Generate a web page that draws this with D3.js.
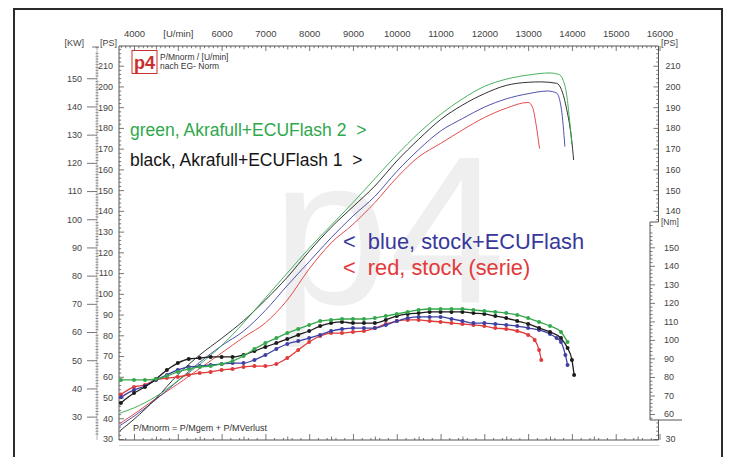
<!DOCTYPE html>
<html><head><meta charset="utf-8">
<script src="https://cdn.jsdelivr.net/npm/d3@7"></script>
<style>
body{margin:0;background:#fff}
svg{display:block}
text{font-family:"Liberation Sans",Arial,sans-serif;white-space:pre}
</style>
</head><body>
<svg id="c" width="738" height="457"></svg>
<script>
// ---------- DATA ----------
const rpmMajor = [4000,5000,6000,7000,8000,9000,10000,11000,12000,13000,14000,15000,16000];
const rpmLabels = ["4000","[U/min]","6000","7000","8000","9000","10000","11000","12000","13000","14000","15000","16000"];
const psTicks = [30,40,50,60,70,80,90,100,110,120,130,140,150,160,170,180,190,200,210];
const kwTicks = [30,40,50,60,70,80,90,100,110,120,130,140,150];
const psRightTicks = [140,150,160,170,180,190,200,210];
const nmTicks = [60,70,80,90,100,110,120,130,140,150];

// power (PS) - thin lines
const powerRpm = [3680,4000,4500,5000,5500,6000,6500,7000,7500,8000,8500,9000,9500,10000,10500,11000,11500,12000,12500,13000];
const greenPower = [42.5,45,50.5,58,66,75,86,98,110,122,133,144,155.5,167,177.5,186.5,194,200,203.5,205.5];
const greenPowerTailRpm = [13500,13700,13800,13880,13950,14000];
const greenPowerTail = [206.5,205.8,203,196,183,172];
const blackPower = [34,39.5,49.5,61,70.5,78.5,87,97,108,120.5,132,142,152,164,174.5,184,191,196.5,200.5,202];
const blackPowerTailRpm = [13300,13650,13760,13880,13990,14040];
const blackPowerTail = [202.2,201.5,198.5,189,175,164.5];
const bluePower = [36.5,41,49,58,67,75,82,92,104,115.5,127,137.5,147,159,169.5,178.5,184.5,190,194,196.5];
const bluePowerTailRpm = [13450,13650,13760,13840];
const bluePowerTail = [197.8,196.8,189,171];
const redPower = [37.5,42,49.5,56.5,64,71.5,79,86,97,112,124.5,133.5,144,156,166,172.5,179,185,189.5,192.3];
const redPowerTailRpm = [13100,13190,13260];
const redPowerTail = [190,180.5,170];

// torque (Nm) - dotted lines
const torqueRpm = [3700,4000,4250,4500,4750,5000,5250,5500,5750,6000,6250,6500,6750,7000,7250,7500,7750,8000,8250,8500,8750,9000,9250,9500,9750,10000,10250,10500,10750,11000,11250,11500,11750,12000,12250,12500,12750,13000];
const greenTorque = [78.4,78.4,78.4,78.9,80.5,82.7,84.3,85.4,85.9,87,88.6,91.3,95.1,98.3,101,103.7,105.9,108.1,110.2,110.8,111.3,111.3,111.3,111.8,112.9,114,115.1,116.2,116.7,116.7,116.7,116.7,116.2,115.6,115.1,114.5,113.5,111.8];
const greenTorqueTailRpm = [13250,13500,13750,13900];
const greenTorqueTail = [109.7,107.5,104.3,98.9];
const blackTorque = [66,71.3,74.6,78.9,83.8,87.5,89.7,90.2,90.8,90.8,90.8,91.9,94,96.2,98.3,100.5,102.7,104.8,107.5,109.1,109.7,109.1,109.1,109.1,110.8,112.9,114,114.5,115.1,115.1,115.1,115.1,114.5,114,112.9,111.8,110.2,108.6];
const blackTorqueTailRpm = [13250,13500,13750,13900,14000,14050];
const blackTorqueTail = [106.4,104.3,101,95.6,89.2,81.1];
const blueTorque = [69,73,75.1,78.4,81.1,83.8,85.4,85.9,86.5,87,87.5,87.5,89.2,91.9,95.1,97.8,99.4,101,102.7,104.8,105.9,106.4,106.4,106.4,108.1,110.2,111.8,112.4,112.4,112.4,111.3,110.2,109.1,109.1,108.6,108.1,107.5,106.4];
const blueTorqueTailRpm = [13250,13500,13650,13750,13850,13900];
const blueTorqueTail = [105.4,103.2,101,98.9,91.9,86.5];
const redTorque = [70.5,74.6,75.7,78.4,79.4,80,81.1,82.1,82.7,83.8,84.3,85.4,85.9,85.9,87,90.2,94.6,98.9,102.1,103.7,103.7,104.3,104.8,106.4,108.6,110.2,110.8,110.8,110.2,109.7,109.1,108.6,108.1,107.5,106.4,105.9,104.8,102.7];
const redTorqueTailRpm = [13150,13250,13300];
const redTorqueTail = [100,94.6,89.2];

const legendTexts = ["green, Akrafull+ECUFlash 2  >","black, Akrafull+ECUFlash 1  >","<  blue, stock+ECUFlash","<  red, stock (serie)"];

// ---------- DRAW ----------
const svg = d3.select("#c");
const PL = 119, PR = 658.5, PT = 46, PB = 440;
const x = d3.scaleLinear().domain([3680,16000]).range([120,659.5]);
const yPS = d3.scaleLinear().domain([30,210]).range([439,65.7]);
const KW2PS = 1.35962;
const yK = kw => yPS(kw*KW2PS);
const yKW = d3.scaleLinear().domain([0,200]).range([yK(0),yK(200)]);
const yNm = d3.scaleLinear().domain([60,150]).range([414,247.3]);

const C = {green:"#34a84c", black:"#1c1c1c", blue:"#3f3fa3", red:"#e03a3a"};
const axisCol = "#555", labCol = "#444";

svg.append("rect").attr("width",738).attr("height",457).attr("fill","#fff");
svg.append("rect").attr("x",14).attr("y",9).attr("width",708).attr("height",480)
  .attr("fill","none").attr("stroke","#2b2b2b").attr("stroke-width",2);

// watermark
svg.append("text").attr("x",272).attr("y",303).attr("font-size",210)
  .attr("fill","#efefef").text("p4");

function styleAxis(g, fs){
  g.select(".domain").remove();
  g.selectAll("line").attr("stroke",axisCol).attr("stroke-width",0.8);
  g.selectAll("text").attr("fill",labCol).attr("font-size",fs||9)
    .attr("font-family",'"Liberation Sans",Arial,sans-serif');
}

// top axis
const minorTop = d3.range(3700,16001,100).filter(v=>v%500!==0);
const midTop = d3.range(4500,16001,1000);
let g = svg.append("g").attr("transform",`translate(0,${PT})`)
  .call(d3.axisTop(x).tickValues(minorTop).tickSize(-2.2).tickFormat(""));
styleAxis(g);
g = svg.append("g").attr("transform",`translate(0,${PT})`)
  .call(d3.axisTop(x).tickValues(midTop).tickSize(-3.5).tickFormat(""));
styleAxis(g);
g = svg.append("g").attr("transform",`translate(0,${PT})`)
  .call(d3.axisTop(x).tickValues(rpmMajor).tickSize(-5).tickPadding(9).tickFormat((d,i)=>rpmLabels[i]));
styleAxis(g,9.5);

// bottom axis
g = svg.append("g").attr("transform",`translate(0,${PB})`)
  .call(d3.axisBottom(x).tickValues(d3.range(3800,16001,200).filter(v=>v%500!==0)).tickSize(-2).tickFormat(""));
styleAxis(g);
g = svg.append("g").attr("transform",`translate(0,${PB})`)
  .call(d3.axisBottom(x).tickValues(midTop).tickSize(-3.5).tickFormat(""));
styleAxis(g);
g = svg.append("g").attr("transform",`translate(0,${PB})`)
  .call(d3.axisBottom(x).tickValues(rpmMajor).tickSize(-6).tickFormat(""));
styleAxis(g);
svg.append("line").attr("x1",PL).attr("x2",PR+1).attr("y1",445.5).attr("y2",445.5)
  .attr("stroke","#d2d2d2").attr("stroke-width",1);

// plot frame
svg.append("path").attr("d",`M${PL},${PT}H${PR}M${PL},${PT}V${PB}H${PR}`)
  .attr("fill","none").attr("stroke",axisCol).attr("stroke-width",1);
svg.append("path").attr("d",`M${PR},${PT}V222H650V420H682M${PR},420V${PB}`)
  .attr("fill","none").attr("stroke",axisCol).attr("stroke-width",1);

// left PS axis
g = svg.append("g").attr("transform",`translate(${PL},0)`)
  .call(d3.axisLeft(yPS).tickValues(d3.range(30,220,2).filter(v=>v%10!==0)).tickSize(-2.2).tickFormat(""));
styleAxis(g);
g = svg.append("g").attr("transform",`translate(${PL},0)`)
  .call(d3.axisLeft(yPS).tickValues(psTicks).tickSize(-5).tickPadding(6));
styleAxis(g);

// left KW axis
const kwMinor = d3.range(24,162,1).filter(v=>v%10!==0 && yK(v)>=PT && yK(v)<=PB);
svg.append("line").attr("x1",97).attr("x2",97).attr("y1",PT+1).attr("y2",PB)
  .attr("stroke","#888").attr("stroke-width",0.6);
g = svg.append("g").attr("transform",`translate(97,0)`)
  .call(d3.axisLeft(yKW).tickValues(kwMinor).tickSize(2).tickFormat(""));
styleAxis(g);
g.selectAll("line").attr("stroke","#777").attr("x1",1.5).attr("x2",-1.5);
g = svg.append("g").attr("transform",`translate(97,0)`)
  .call(d3.axisLeft(yKW).tickValues(kwTicks).tickSize(10).tickPadding(5));
styleAxis(g);
svg.append("line").attr("x1",92).attr("x2",99).attr("y1",PT+1).attr("y2",PT+1).attr("stroke",axisCol).attr("stroke-width",0.8);
svg.append("text").attr("x",84).attr("y",46).attr("text-anchor","end").attr("font-size",9).attr("fill",labCol).text("[KW]");
svg.append("text").attr("x",100).attr("y",46).attr("font-size",9).attr("fill",labCol).text("[PS]");

// right PS axis (upper part + bottom stub)
g = svg.append("g").attr("transform",`translate(${PR},0)`)
  .call(d3.axisRight(yPS).tickValues(d3.range(136,220,2).filter(v=>v%10!==0)).tickSize(-2.2).tickFormat(""));
styleAxis(g);
g = svg.append("g").attr("transform",`translate(${PR},0)`)
  .call(d3.axisRight(yPS).tickValues(psRightTicks).tickSize(-5).tickPadding(7));
styleAxis(g);
g = svg.append("g").attr("transform",`translate(${PR},0)`)
  .call(d3.axisRight(yPS).tickValues([32,34,36,38]).tickSize(-2.2).tickFormat(""));
styleAxis(g);
g = svg.append("g").attr("transform",`translate(${PR},0)`)
  .call(d3.axisRight(yPS).tickValues([30]).tickSize(-5).tickPadding(7));
styleAxis(g);
svg.append("text").attr("x",661).attr("y",46).attr("font-size",9).attr("fill",labCol).text("[PS]");

// Nm axis
g = svg.append("g").attr("transform",`translate(650,0)`)
  .call(d3.axisRight(yNm).tickValues(d3.range(58,163,2).filter(v=>v%10!==0)).tickSize(2.5).tickFormat(""));
styleAxis(g);
g = svg.append("g").attr("transform",`translate(650,0)`)
  .call(d3.axisRight(yNm).tickValues(nmTicks).tickSize(5).tickPadding(9));
styleAxis(g);
svg.append("text").attr("x",661).attr("y",225).attr("font-size",8.5).attr("fill",labCol).text("[Nm]");

// logo
svg.append("rect").attr("x",132).attr("y",50.5).attr("width",25).attr("height",23)
  .attr("fill","#fff").attr("stroke","#c9302c").attr("stroke-width",1);
svg.append("text").attr("x",144.5).attr("y",69).attr("text-anchor","middle")
  .attr("font-size",18).attr("font-weight","bold").attr("fill","#c9302c")
  .attr("font-family","'Liberation Serif',serif").text("p4");
svg.append("text").attr("x",160).attr("y",60).attr("font-size",8.5).attr("fill","#333").text("P/Mnorm / [U/min]");
svg.append("text").attr("x",160).attr("y",69).attr("font-size",8.5).attr("fill","#333").text("nach EG- Norm");
svg.append("text").attr("x",133).attr("y",431).attr("font-size",9).attr("fill","#333").text("P/Mnorm = P/Mgem + P/MVerlust");

// series
const zip = (r,v) => r.map((d,i)=>[d,v[i]]);
const series = [
  {c:C.red,   p:zip(powerRpm,redPower).concat(zip(redPowerTailRpm,redPowerTail)),   t:zip(torqueRpm,redTorque).concat(zip(redTorqueTailRpm,redTorqueTail))},
  {c:C.blue,  p:zip(powerRpm,bluePower).concat(zip(bluePowerTailRpm,bluePowerTail)), t:zip(torqueRpm,blueTorque).concat(zip(blueTorqueTailRpm,blueTorqueTail))},
  {c:C.black, p:zip(powerRpm,blackPower).concat(zip(blackPowerTailRpm,blackPowerTail)), t:zip(torqueRpm,blackTorque).concat(zip(blackTorqueTailRpm,blackTorqueTail))},
  {c:C.green, p:zip(powerRpm,greenPower).concat(zip(greenPowerTailRpm,greenPowerTail)), t:zip(torqueRpm,greenTorque).concat(zip(greenTorqueTailRpm,greenTorqueTail))}
];
const lineP = d3.line().x(d=>x(d[0])).y(d=>yPS(d[1])).curve(d3.curveMonotoneX);
const lineT = d3.line().x(d=>x(d[0])).y(d=>yNm(d[1])).curve(d3.curveMonotoneX);
series.forEach(s=>{
  svg.append("path").attr("d",lineP(s.p)).attr("fill","none").attr("stroke",s.c).attr("stroke-width",1).attr("opacity",0.9);
});
series.forEach(s=>{
  svg.append("path").attr("d",lineT(s.t)).attr("fill","none").attr("stroke",s.c).attr("stroke-width",1.3);
  svg.append("g").selectAll("circle").data(s.t).join("circle")
    .attr("cx",d=>x(d[0])).attr("cy",d=>yNm(d[1])).attr("r",2).attr("fill",s.c);
});

// legend texts
const legendPos = [[130,136,17.5,"#2fa84b"],[130,166,17.5,"#151515"],[343,249,21.8,"#38389c"],[343,275,21.8,"#e3393b"]];
legendTexts.forEach((t,i)=>{
  const p = legendPos[i];
  svg.append("text").attr("x",p[0]).attr("y",p[1]).attr("font-size",p[2]).attr("fill",p[3]).text(t);
});
</script>
</body></html>
